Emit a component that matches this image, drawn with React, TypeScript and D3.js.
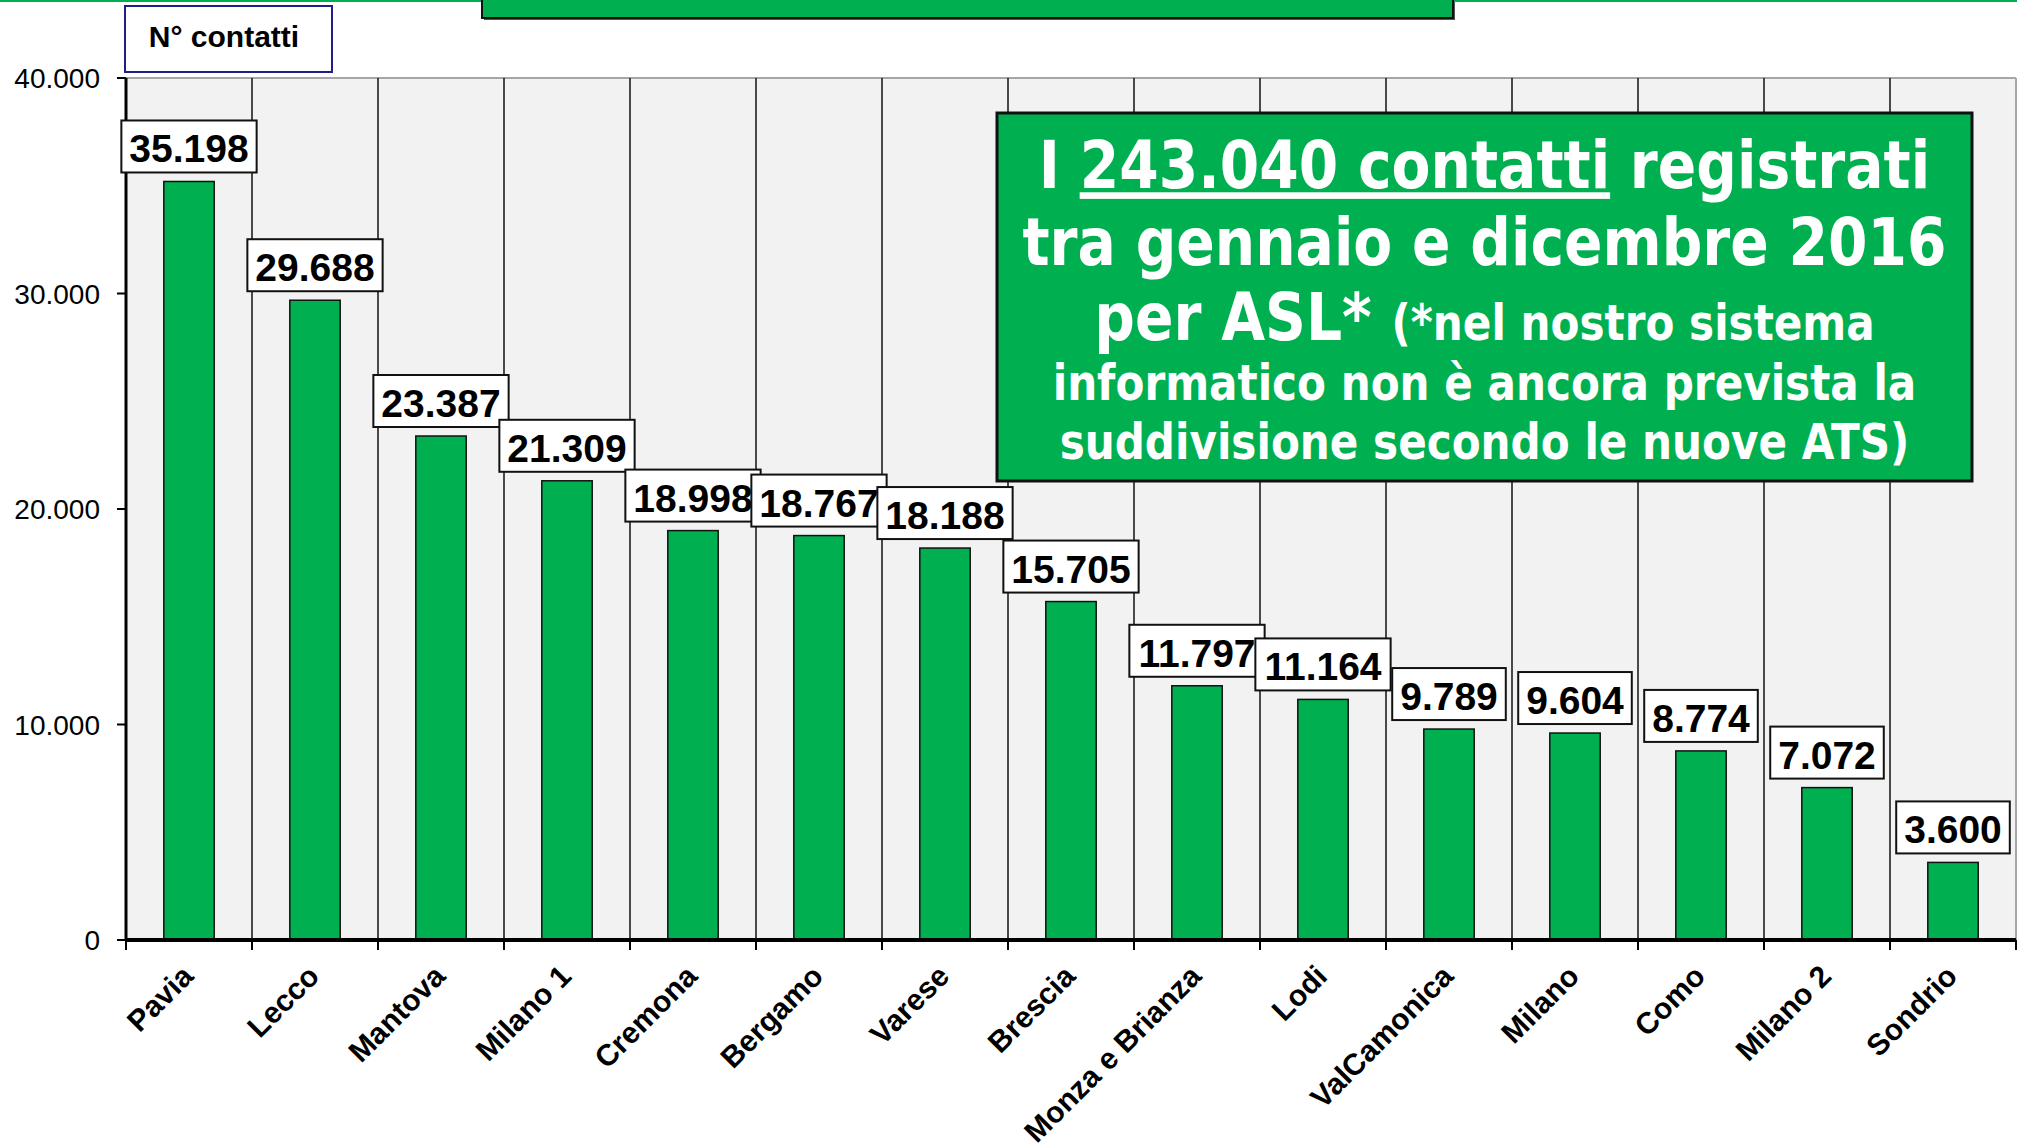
import React from "react";
import * as d3 from "d3";

const categories = ["Pavia", "Lecco", "Mantova", "Milano 1", "Cremona", "Bergamo", "Varese", "Brescia", "Monza e Brianza", "Lodi", "ValCamonica", "Milano", "Como", "Milano 2", "Sondrio"];
const values = [35198, 29688, 23387, 21309, 18998, 18767, 18188, 15705, 11797, 11164, 9789, 9604, 8774, 7072, 3600];
const yTicks = [0, 10000, 20000, 30000, 40000];
const axisTitle = "N° contatti";

const W = 2017;
const H = 1145;
const GREEN = "#00B050";
const ARIAL = "'Liberation Sans', Arial, sans-serif";
const TAHOMA = "'DejaVu Sans', Verdana, sans-serif";

const it = d3.formatLocale({ decimal: ",", thousands: ".", grouping: [3], currency: ["€", ""] });
const fmt = it.format(",d");

export default function App() {
  const x = d3.scaleBand<string>().domain(categories).range([126, 2016]).paddingInner(0).paddingOuter(0);
  const y = d3.scaleLinear().domain([0, 40000]).range([940, 78]);
  const bw = x.bandwidth() * 0.4;
  const x0 = 126, x1 = 2016, yTop = y(40000), yBase = y(0);
  const boundaries = categories.map((c) => x(c) as number).concat([x1]);

  const labelW = (s: string) => {
    let w = 0;
    for (const ch of s) w += ch === "." ? 0.278 : 0.556;
    return w * 39 + 16;
  };

  return (
    <svg width={W} height={H} style={{ position: "absolute", left: 0, top: 0, background: "#fff" }}>
      {/* top green line and cut-off title box */}
      <rect x={0} y={0} width={W} height={2} fill={GREEN} />
      <rect x={484} y={2} width={971} height={18} fill="#555" />
      <rect x={482} y={-4} width={971} height={22} fill={GREEN} stroke="#111" strokeWidth={2} />

      {/* plot background */}
      <rect x={x0} y={yTop} width={x1 - x0} height={yBase - yTop} fill="#F2F2F2" />
      <line x1={x0} x2={x1} y1={yTop} y2={yTop} stroke="#A6A6A6" strokeWidth={2} />
      <line x1={x1} x2={x1} y1={yTop} y2={yBase} stroke="#A6A6A6" strokeWidth={2} />

      {/* vertical gridlines at category boundaries */}
      {boundaries.slice(1, -1).map((b, i) => (
        <line key={"g" + i} x1={b} x2={b} y1={yTop} y2={yBase} stroke="#111" strokeWidth={1.5} />
      ))}

      {/* bars */}
      {categories.map((c, i) => {
        const cx = (x(c) as number) + x.bandwidth() / 2;
        return (
          <rect key={"b" + c} x={cx - bw / 2} y={y(values[i])} width={bw} height={yBase - y(values[i])}
            fill={GREEN} stroke="#111" strokeWidth={1.5} />
        );
      })}

      {/* y axis */}
      <line x1={x0} x2={x0} y1={yTop} y2={yBase} stroke="#000" strokeWidth={3} />
      {yTicks.map((t) => (
        <g key={"t" + t}>
          <line x1={117} x2={x0} y1={y(t)} y2={y(t)} stroke="#000" strokeWidth={2} />
          <text x={100} y={y(t)} dy={10} textAnchor="end" fontFamily={ARIAL} fontSize={28} fill="#000">{fmt(t)}</text>
        </g>
      ))}

      {/* x axis */}
      <line x1={x0} x2={x1} y1={yBase} y2={yBase} stroke="#000" strokeWidth={4} />
      {boundaries.map((b, i) => (
        <line key={"xt" + i} x1={b} x2={b} y1={yBase} y2={yBase + 10} stroke="#000" strokeWidth={2} />
      ))}
      {categories.map((c) => {
        const cx = (x(c) as number) + x.bandwidth() / 2 + 6;
        const ty = yBase + 38;
        return (
          <text key={"l" + c} x={cx} y={ty} transform={`rotate(-45 ${cx} ${ty})`} textAnchor="end"
            fontFamily={ARIAL} fontWeight="bold" fontSize={30} fill="#000">{c}</text>
        );
      })}

      {/* data labels */}
      {categories.map((c, i) => {
        const cx = (x(c) as number) + x.bandwidth() / 2;
        const s = fmt(values[i]);
        const w = labelW(s);
        const bottom = y(values[i]) - 9;
        return (
          <g key={"d" + c}>
            <rect x={cx - w / 2} y={bottom - 52} width={w} height={52} fill="#fff" stroke="#111" strokeWidth={2} />
            <text x={cx} y={bottom - 10} textAnchor="middle" fontFamily={ARIAL} fontWeight="bold" fontSize={39} fill="#000">{s}</text>
          </g>
        );
      })}

      {/* axis title box */}
      <rect x={125} y={6} width={207} height={66} fill="#fff" stroke="#1F1F8A" strokeWidth={2} />
      <text x={224} y={47} textAnchor="middle" fontFamily={ARIAL} fontWeight="bold" fontSize={30} fill="#000">{axisTitle}</text>

      {/* annotation box */}
      <rect x={997} y={113} width={975} height={368} fill={GREEN} stroke="#111" strokeWidth={3} />
      <g transform={`translate(1484.5,0) scale(0.86,1)`} fontFamily={TAHOMA} fontWeight="bold" fill="#fff" textAnchor="middle">
        <text x={0} y={188} fontSize={66}>
          <tspan>I </tspan>
          <tspan style={{ textDecoration: "underline" }}>243.040 contatti</tspan>
          <tspan> registrati</tspan>
        </text>
        <text x={0} y={265} fontSize={66}>tra gennaio e dicembre 2016</text>
        <text x={0} y={340}>
          <tspan fontSize={66}>per ASL* </tspan>
          <tspan fontSize={49}>(*nel nostro sistema</tspan>
        </text>
        <text x={0} y={400} fontSize={49}>informatico non è ancora prevista la</text>
        <text x={0} y={459} fontSize={49}>suddivisione secondo le nuove ATS)</text>
      </g>
    </svg>
  );
}
